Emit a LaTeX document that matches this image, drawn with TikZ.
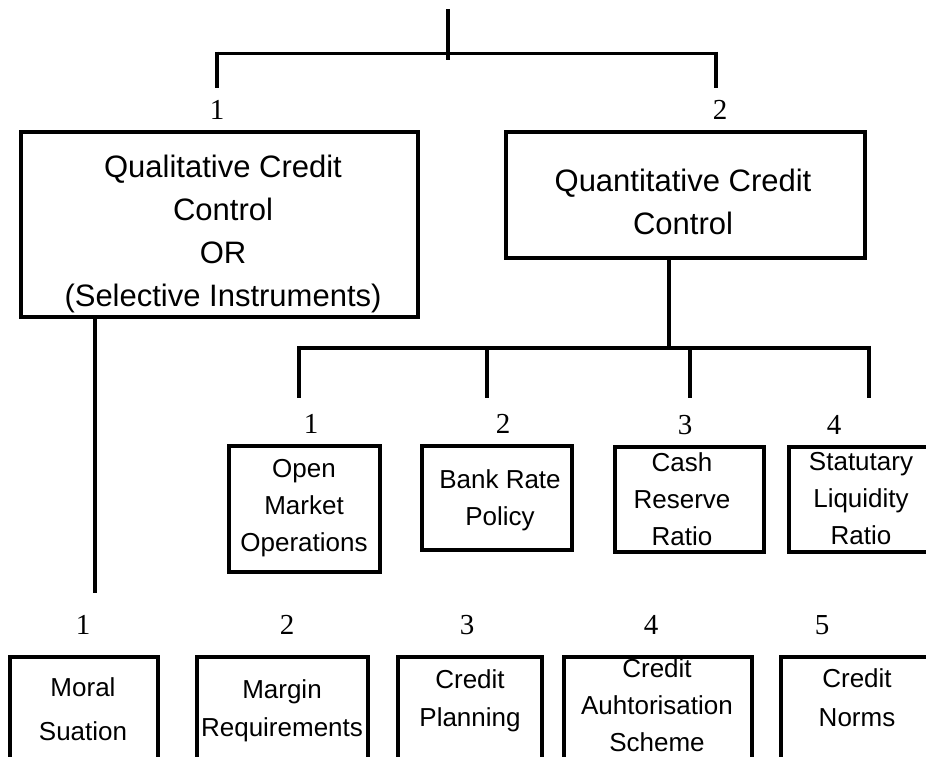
\documentclass[tikz,border=0pt]{standalone}
\usepackage{fontspec}
\setmainfont{Liberation Sans}
\newfontfamily\numfont{Liberation Serif}
\begin{document}
\begin{tikzpicture}[x=1pt,y=-1pt,
  box/.style={draw,line width=3.5pt,inner sep=0pt},
  bigtxt/.style={align=center,inner sep=0pt,font=\fontsize{31}{43}\selectfont},
  txt/.style={align=center,inner sep=0pt,font=\fontsize{26}{#1}\selectfont},
  txt/.default=37,
  num/.style={inner sep=0pt,font=\numfont\fontsize{29}{29}\selectfont},
  conn/.style={line width=4.5pt},
  thinconn/.style={line width=3pt}]
\useasboundingbox (0,0) rectangle (926,756);
\clip (0,0) rectangle (926,756);

% top structure
\coordinate (t0) at (448,9);
\coordinate (t1) at (448,60);
\coordinate (hl) at (217,53);
\coordinate (hr) at (716,53);
\coordinate (dl) at (217,88);
\coordinate (dr) at (716,88);
\draw[conn] (t0) -- (t1);
\draw[thinconn] (hl) -- (hr);
\draw[conn] (hl) ++(0,-1.5) -- (dl);
\draw[conn] (hr) ++(0,-1.5) -- (dr);

\node[num] (n1) at (217,110) {1};
\node[num] (n2) at (720,110) {2};

% level 1 boxes
\node[box,minimum width=397,minimum height=185] (qual) at (219.5,224.5) {};
\node[bigtxt] (qualt) at (223,234) {Qualitative Credit\\Control\\OR\\(Selective Instruments)};
\node[box,minimum width=359,minimum height=126] (quant) at (685.5,195) {};
\node[bigtxt] (quantt) at (683,201.5) {Quantitative Credit\\Control};

% quantitative branches
\coordinate (qs) at (669,348);
\coordinate (bl) at (299,348);
\coordinate (br) at (869,348);
\draw[conn] (quant.south -| qs) -- (qs);
\draw[conn] (bl) -- (br);
\coordinate (m1) at (299,398);
\coordinate (m2) at (487,398);
\coordinate (m3) at (690,398);
\coordinate (m4) at (869,398);
\draw[conn] (bl) ++(0,-2.25) -- (m1);
\draw[conn] (m2 |- bl) -- (m2);
\draw[conn] (m3 |- bl) -- (m3);
\draw[conn] (br) ++(0,-2.25) -- (m4);

\node[num] (mn1) at (311,424) {1};
\node[num] (mn2) at (503,424) {2};
\node[num] (mn3) at (685,425) {3};
\node[num] (mn4) at (834,425) {4};

\node[box,minimum width=151,minimum height=126] (omo) at (304.5,509) {};
\node[txt] (omot) at (304,508) {Open\\Market\\Operations};
\node[box,minimum width=150,minimum height=104] (brp) at (497,498) {};
\node[txt] (brpt) at (500,500) {Bank Rate\\Policy};
\node[box,minimum width=149,minimum height=105] (crr) at (689.5,499.5) {};
\node[txt] (crrt) at (682,499) {Cash\\Reserve\\Ratio};
\node[box,minimum width=171,minimum height=105] (slr) at (874.5,499.5) {};
\node[txt] (slrt) at (861,499) {Statutary\\Liquidity\\Ratio};

% qualitative branch
\coordinate (ql) at (95,593);
\draw[conn] (qual.south -| ql) -- (ql);

\node[num] (bn1) at (83,625) {1};
\node[num] (bn2) at (287,625) {2};
\node[num] (bn3) at (467,625) {3};
\node[num] (bn4) at (651,625) {4};
\node[num] (bn5) at (822,625) {5};

\node[box,minimum width=148,minimum height=200] (ms) at (84,757) {};
\node[txt=44] (mst) at (83,709) {Moral\\Suation};
\node[box,minimum width=171,minimum height=200] (mr) at (282.5,757) {};
\node[txt=38] (mrt) at (282,711) {Margin\\Requirements};
\node[box,minimum width=144,minimum height=200] (cp) at (470,757) {};
\node[txt=38] (cpt) at (470,701) {Credit\\Planning};
\node[box,minimum width=188,minimum height=200] (cas) at (658,757) {};
\node[txt=37] (cast) at (657,705) {Credit\\Auhtorisation\\Scheme};
\node[box,minimum width=180,minimum height=200] (cn) at (871,757) {};
\node[txt=39] (cnt) at (857,697.5) {Credit\\Norms};
\end{tikzpicture}
\end{document}
